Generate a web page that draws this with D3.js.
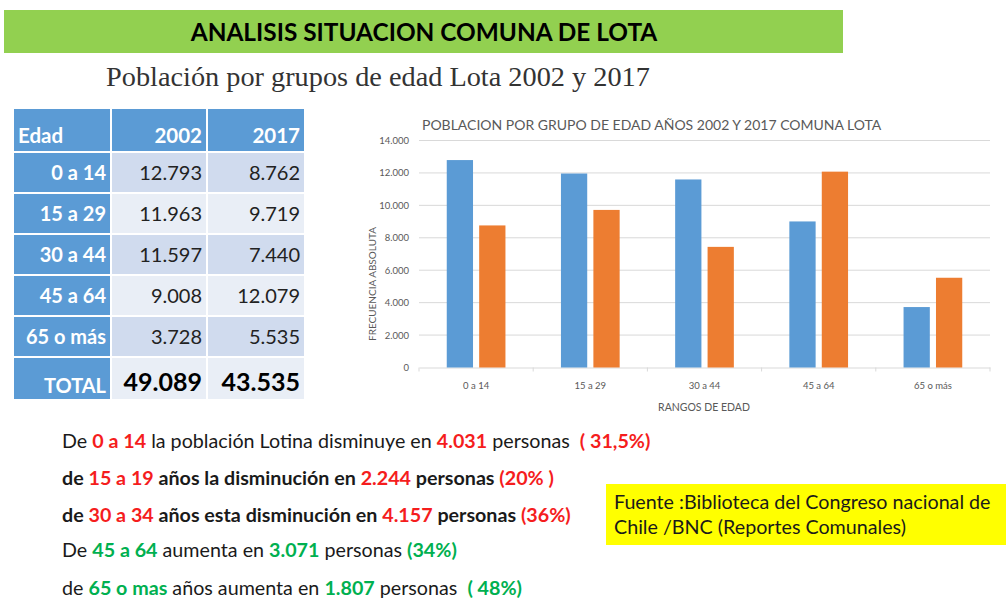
<!DOCTYPE html>
<html>
<head>
<meta charset="utf-8">
<script src="https://cdn.jsdelivr.net/npm/d3@7"></script>
<style>
  body { margin: 0; background: #fff; }
  svg { display: block; font-family: Lato, "Open Sans", sans-serif; }
</style>
</head>
<body>
<div id="chart"></div>
<script>
// data
var grupos = ["0 a 14", "15 a 29", "30 a 44", "45 a 64", "65 o más"];
var anios = ["2002", "2017"];
var pob2002 = [12793, 11963, 11597, 9008, 3728];
var pob2017 = [8762, 9719, 7440, 12079, 5535];
var yTicks = [0, 2000, 4000, 6000, 8000, 10000, 12000, 14000];

var RED = "#F51D1D", GREEN = "#00B050", BLACK = "#1a1a1a";
var lineas = [
  [["De ", BLACK, 400], ["0 a 14", RED, 700], [" la población Lotina disminuye en ", BLACK, 400], ["4.031", RED, 700], [" personas  ", BLACK, 400], ["( 31,5%)", RED, 700]],
  [["de ", BLACK, 700], ["15 a 19", RED, 700], [" años la disminución en ", BLACK, 700], ["2.244", RED, 700], [" personas ", BLACK, 700], ["(20% )", RED, 700]],
  [["de ", BLACK, 700], ["30 a 34", RED, 700], [" años esta disminución en ", BLACK, 700], ["4.157", RED, 700], [" personas ", BLACK, 700], ["(36%)", RED, 700]],
  [["De ", BLACK, 400], ["45 a 64", GREEN, 700], [" aumenta en ", BLACK, 400], ["3.071", GREEN, 700], [" personas ", BLACK, 400], ["(34%)", GREEN, 700]],
  [["de ", BLACK, 400], ["65 o mas", GREEN, 700], [" años aumenta en ", BLACK, 400], ["1.807", GREEN, 700], [" personas  ", BLACK, 400], ["( 48%)", GREEN, 700]]
];

var loc = d3.formatLocale({decimal: ",", thousands: ".", grouping: [3], currency: ["$", ""]});
var fmt = loc.format(",d");

var svg = d3.select("#chart").append("svg")
    .attr("width", 1008)
    .attr("height", 599);

svg.append("rect").attr("width", 1008).attr("height", 599).style("fill", "#fff");

// banner
svg.append("rect")
  .attr("x", 4).attr("y", 10).attr("width", 839).attr("height", 43)
  .style("fill", "#92D050");
svg.append("text")
  .attr("x", 424).attr("y", 41)
  .attr("text-anchor", "middle")
  .text("ANALISIS SITUACION COMUNA DE LOTA")
  .style("font-size", "24.4px")
  .style("font-weight", "700")
  .style("fill", "#000");

svg.append("text")
  .attr("x", 106).attr("y", 86)
  .text("Población por grupos de edad Lota 2002 y 2017")
  .style("font-family", "'Liberation Serif', 'DejaVu Serif', serif")
  .style("font-size", "28.3px")
  .style("fill", "#333");

// table
var colX = [14, 112, 208], colW = [96, 94, 96];
var tabla = svg.append("g");

tabla.selectAll(".hdr")
  .data(["Edad"].concat(anios))
  .enter().append("rect")
  .attr("x", function(d, i) { return colX[i]; })
  .attr("y", 109).attr("width", function(d, i) { return colW[i]; }).attr("height", 42)
  .style("fill", "#5B9BD5");

tabla.selectAll(".hdrtxt")
  .data(["Edad"].concat(anios))
  .enter().append("text")
  .attr("x", function(d, i) { return i == 0 ? colX[0] + 4 : colX[i] + colW[i] - 4; })
  .attr("y", 143)
  .attr("text-anchor", function(d, i) { return i == 0 ? "start" : "end"; })
  .text(function(d) { return d; })
  .style("font-size", "20.5px").style("font-weight", "700").style("fill", "#fff");

var filas = grupos.map(function(g, i) { return {g: g, a: pob2002[i], b: pob2017[i], total: false}; });
filas.push({g: "TOTAL", a: d3.sum(pob2002), b: d3.sum(pob2017), total: true});

var fila = tabla.selectAll(".fila")
  .data(filas)
  .enter().append("g")
  .attr("transform", function(d, i) { return "translate(0," + (153 + 41 * i) + ")"; });

fila.each(function(d, i) {
  var g = d3.select(this);
  var h = d.total ? 41 : 39;
  var bg = (i % 2 == 0 && !d.total) ? "#D0DBEE" : "#E9EEF6";
  g.append("rect").attr("x", colX[0]).attr("width", colW[0]).attr("height", h).style("fill", "#5B9BD5");
  g.append("rect").attr("x", colX[1]).attr("width", colW[1]).attr("height", h).style("fill", bg);
  g.append("rect").attr("x", colX[2]).attr("width", colW[2]).attr("height", h).style("fill", bg);
  var by = d.total ? 33 : 27;
  g.append("text")
    .attr("x", colX[0] + colW[0] - 4).attr("y", d.total ? 35 : 27)
    .attr("text-anchor", "end")
    .text(d.g)
    .style("font-size", "20px").style("font-weight", "700").style("fill", "#fff");
  [d.a, d.b].forEach(function(v, k) {
    g.append("text")
      .attr("x", colX[k + 1] + colW[k + 1] - 4).attr("y", by)
      .attr("text-anchor", "end")
      .text(fmt(v))
      .style("font-size", d.total ? "25px" : "20px")
      .style("font-weight", d.total ? "700" : "400")
      .style("fill", d.total ? "#000" : "#222");
  });
});

// bar chart
var x0 = d3.scaleBand().domain(grupos).range([419, 990]).paddingInner(0.486).paddingOuter(0.243);
var x1 = d3.scaleBand().domain(anios).range([0, x0.bandwidth()]).paddingInner(0.19);
var y = d3.scaleLinear().domain([0, 14000]).range([367.5, 140.5]);
var color = d3.scaleOrdinal().domain(anios).range(["#5B9BD5", "#ED7D31"]);

var grid = svg.append("g");
grid.selectAll("line")
  .data(yTicks.slice(1))
  .enter().append("line")
  .attr("x1", 419).attr("x2", 990)
  .attr("y1", function(d) { return y(d); }).attr("y2", function(d) { return y(d); })
  .style("stroke", "#D9D9D9").style("stroke-width", 1);

var yAxis = svg.append("g")
  .attr("transform", "translate(409,0)")
  .call(d3.axisLeft(y).tickValues(yTicks).tickFormat(fmt).tickSize(0).tickPadding(0));
yAxis.select(".domain").remove();
yAxis.selectAll("text").style("font-size", "9.5px").style("fill", "#595959").style("font-family", "Lato, sans-serif");

var xAxis = svg.append("g")
  .attr("transform", "translate(0," + y(0) + ")")
  .call(d3.axisBottom(x0).tickSize(0).tickPadding(15));
xAxis.select(".domain").style("stroke", "#D9D9D9");
xAxis.selectAll("text").style("font-size", "9.5px").style("fill", "#595959").style("font-family", "Lato, sans-serif");

// tick marks between categories
var step = x0.step();
var bordes = grupos.map(function(g) { return x0(g) - x0.paddingOuter() * step; }).concat([990]);
xAxis.selectAll(".sep")
  .data(bordes)
  .enter().append("line")
  .attr("x1", function(d) { return d; }).attr("x2", function(d) { return d; })
  .attr("y1", 0).attr("y2", 4)
  .style("stroke", "#D9D9D9");

var series = anios.map(function(a, k) {
  var vals = k == 0 ? pob2002 : pob2017;
  return grupos.map(function(g, i) { return {g: g, a: a, v: vals[i]}; });
});

svg.append("g").selectAll("g")
  .data(series)
  .enter().append("g")
  .style("fill", function(d) { return color(d[0].a); })
  .selectAll("rect")
  .data(function(d) { return d; })
  .enter().append("rect")
  .attr("x", function(d) { return x0(d.g) + x1(d.a); })
  .attr("y", function(d) { return y(d.v); })
  .attr("width", x1.bandwidth())
  .attr("height", function(d) { return y(0) - y(d.v); });

svg.append("text")
  .attr("x", 422).attr("y", 130)
  .text("POBLACION POR GRUPO DE EDAD AÑOS 2002 Y 2017 COMUNA LOTA")
  .style("font-size", "14px").style("fill", "#595959");

svg.append("text")
  .attr("transform", "translate(376,284) rotate(-90)")
  .attr("text-anchor", "middle")
  .text("FRECUENCIA ABSOLUTA")
  .style("font-size", "10px").style("fill", "#595959");

svg.append("text")
  .attr("x", 704).attr("y", 411)
  .attr("text-anchor", "middle")
  .text("RANGOS DE EDAD")
  .style("font-size", "10.5px").style("fill", "#595959");

// conclusiones
var baseY = [448, 485, 522, 557, 595];
lineas.forEach(function(partes, i) {
  var t = svg.append("text")
    .attr("x", 62).attr("y", baseY[i])
    .style("font-size", "19.7px")
    .attr("xml:space", "preserve")
    .style("white-space", "pre");
  partes.forEach(function(p) {
    t.append("tspan").text(p[0]).style("fill", p[1]).style("font-weight", p[2]);
  });
});

// fuente
svg.append("rect")
  .attr("x", 606).attr("y", 484).attr("width", 400).attr("height", 61)
  .style("fill", "#FFFF00");
svg.append("text")
  .attr("x", 614).attr("y", 509)
  .text("Fuente :Biblioteca del Congreso nacional de")
  .style("font-size", "19.7px").style("fill", "#1a1a1a");
svg.append("text")
  .attr("x", 614).attr("y", 534)
  .text("Chile /BNC (Reportes Comunales)")
  .style("font-size", "19.7px").style("fill", "#1a1a1a");
</script>
</body>
</html>
